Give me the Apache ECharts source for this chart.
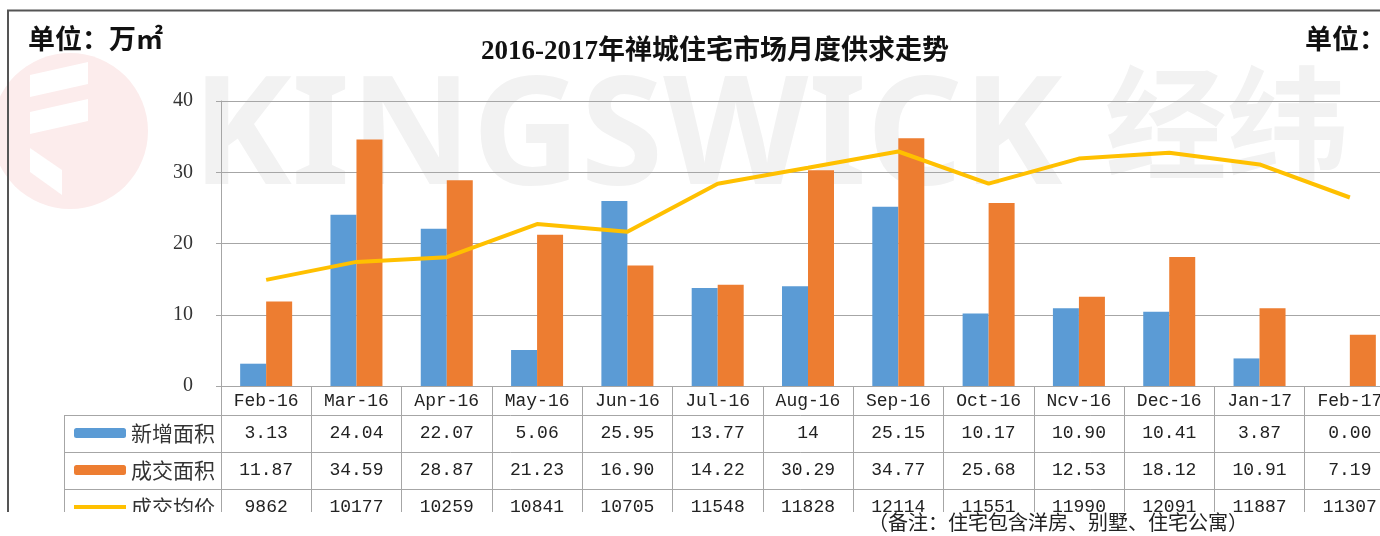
<!DOCTYPE html>
<html>
<head>
<meta charset="utf-8">
<script src="https://cdn.jsdelivr.net/npm/echarts@6/dist/echarts.min.js"></script>
<style>
  html, body { margin: 0; padding: 0; background: #fff; }
  #chart { width: 1380px; height: 536px; }
</style>
</head>
<body>
<div id="chart"></div>
<script>
// months and table rows, as printed in the data table
const months = ['Feb-16', 'Mar-16', 'Apr-16', 'May-16', 'Jun-16', 'Jul-16', 'Aug-16',
  'Sep-16', 'Oct-16', 'Ncv-16', 'Dec-16', 'Jan-17', 'Feb-17']
const newArea = ['3.13', '24.04', '22.07', '5.06', '25.95', '13.77', '14',
  '25.15', '10.17', '10.90', '10.41', '3.87', '0.00']
const dealArea = ['11.87', '34.59', '28.87', '21.23', '16.90', '14.22', '30.29',
  '34.77', '25.68', '12.53', '18.12', '10.91', '7.19']
const avgPrice = ['9862', '10177', '10259', '10841', '10705', '11548', '11828',
  '12114', '11551', '11990', '12091', '11887', '11307']
const seriesNames = ['新增面积', '成交面积', '成交均价']
const areaTicks = [0, 40, 10]      // min, max, step for 万㎡ axis
const priceRange = [8000, 13000]   // hidden axis for the price line

const gridColor = '#a6a6a6'
const tableFont = '"Liberation Mono", "Noto Sans CJK SC", monospace'
const serif = '"Liberation Serif", "Noto Sans CJK SC", serif'

const chart = echarts.init(document.getElementById('chart'))

function tableAxis(data, offset) {
  return {
    type: 'category',
    position: 'bottom',
    offset,
    data,
    axisLine: { show: true, lineStyle: { color: gridColor, width: 1 } },
    axisTick: { show: false },
    axisLabel: {
      interval: 0,
      margin: 18,
      verticalAlign: 'middle',
      color: '#222',
      fontSize: 18,
      fontFamily: tableFont,
    },
  }
}

const option = {
  animation: false,
  backgroundColor: '#fff',
  // the plot runs past the right edge of the picture (Feb-17 is cut)
  grid: { left: 221, width: 1174, top: 101, bottom: 150, outerBoundsMode: 'none' },
  legend: {
    orient: 'vertical',
    left: 72,
    top: 422,
    padding: 0,
    itemWidth: 52,
    itemHeight: 10,
    itemGap: 15,
    selectedMode: false,
    data: [
      seriesNames[0],
      seriesNames[1],
      { name: seriesNames[2], itemStyle: { opacity: 0 }, lineStyle: { width: 4 } },
    ],
    textStyle: { fontSize: 21, lineHeight: 22, color: '#333', fontFamily: '"Noto Sans CJK SC"' },
  },
  xAxis: [
    {
      type: 'category',
      data: months,
      axisLine: { show: true, lineStyle: { color: gridColor } },
      axisTick: { show: true, alignWithLabel: false, length: 140, lineStyle: { color: gridColor } },
      axisLabel: {
        interval: 0,
        margin: 15,
        verticalAlign: 'middle',
        color: '#222',
        fontSize: 18,
        fontFamily: tableFont,
      },
    },
    tableAxis(newArea, 29),
    tableAxis(dealArea, 66),
    tableAxis(avgPrice, 103),
  ],
  yAxis: [
    {
      type: 'value',
      min: areaTicks[0],
      max: areaTicks[1],
      interval: areaTicks[2],
      axisLine: { show: true, lineStyle: { color: gridColor } },
      axisTick: { show: true, length: 5, lineStyle: { color: gridColor } },
      axisLabel: { margin: 28, color: '#333', fontSize: 20, fontFamily: serif },
      splitLine: { lineStyle: { color: gridColor, width: 1 } },
    },
    {
      type: 'value',
      min: priceRange[0],
      max: priceRange[1],
      show: false,
      splitLine: { show: false },
    },
  ],
  series: [
    {
      name: seriesNames[0],
      type: 'bar',
      barWidth: 26,
      barGap: '0%',
      itemStyle: { color: '#5B9BD5' },
      data: newArea.map(Number),
    },
    {
      name: seriesNames[1],
      type: 'bar',
      barWidth: 26,
      barGap: '0%',
      itemStyle: { color: '#ED7D31' },
      data: dealArea.map(Number),
    },
    {
      name: seriesNames[2],
      type: 'line',
      yAxisIndex: 1,
      symbol: 'none',
      lineStyle: { width: 4, color: '#FFC000' },
      itemStyle: { color: '#FFC000' },
      data: avgPrice.map(Number),
    },
  ],
  graphic: [
    // faint watermark behind the plot
    { type: 'circle', z: -20, shape: { cx: 70, cy: 131, r: 78 }, style: { fill: '#fcecec' } },
    { type: 'polygon', z: -19, shape: { points: [[30, 75], [88, 62], [88, 84], [30, 97]] }, style: { fill: '#fff' } },
    { type: 'polygon', z: -19, shape: { points: [[30, 112], [88, 99], [88, 121], [30, 134]] }, style: { fill: '#fff' } },
    { type: 'polygon', z: -19, shape: { points: [[30, 148], [62, 170], [62, 195], [30, 172]] }, style: { fill: '#fff' } },
    {
      type: 'text', z: -20, left: 192, top: 66,
      style: { text: 'KINGSWICK', fontSize: 150, fontWeight: 'bold', fontFamily: '"Noto Sans"', fill: '#f2f2f2' },
    },
    {
      type: 'text', z: -20, left: 1105, top: 62,
      style: { text: '经纬', fontSize: 122, fontWeight: 'bold', fontFamily: '"Noto Sans CJK SC"', fill: '#f2f2f2' },
    },
    // headings
    {
      type: 'text', left: 28, top: 29,
      style: { text: '单位：万㎡', fontSize: 27, fontWeight: 'bold', fontFamily: serif, fill: '#111' },
    },
    {
      type: 'text', left: 1305, top: 29,
      style: { text: '单位：元/㎡', fontSize: 27, fontWeight: 'bold', fontFamily: serif, fill: '#111' },
    },
    {
      type: 'text', x: 715, y: 52,
      style: {
        text: '2016-2017年禅城住宅市场月度供求走势', align: 'center', verticalAlign: 'middle',
        fontSize: 27, fontWeight: 'bold', fontFamily: serif, fill: '#111',
      },
    },
    // legend column of the data table
    { type: 'line', shape: { x1: 64, y1: 415.5, x2: 221, y2: 415.5 }, style: { stroke: gridColor, lineWidth: 1 } },
    { type: 'line', shape: { x1: 64, y1: 452.5, x2: 221, y2: 452.5 }, style: { stroke: gridColor, lineWidth: 1 } },
    { type: 'line', shape: { x1: 64, y1: 489.5, x2: 221, y2: 489.5 }, style: { stroke: gridColor, lineWidth: 1 } },
    { type: 'line', shape: { x1: 64.5, y1: 415, x2: 64.5, y2: 530 }, style: { stroke: gridColor, lineWidth: 1 } },
    // outer frame, cut at the bottom
    { type: 'polyline', z: 50, shape: { points: [[8, 520], [8, 10.5], [1400, 10.5]] }, style: { stroke: '#555', lineWidth: 2, fill: null } },
    { type: 'rect', z: 60, shape: { x: 0, y: 512, width: 1380, height: 24 }, style: { fill: '#fff' } },
    {
      type: 'text', z: 61, left: 868, top: 512,
      style: { text: '（备注：住宅包含洋房、别墅、住宅公寓）', fontSize: 20, fontFamily: '"Noto Sans CJK SC"', fill: '#222' },
    },
  ],
}

chart.setOption(option)
window.addEventListener('resize', () => chart.resize())
</script>
</body>
</html>
